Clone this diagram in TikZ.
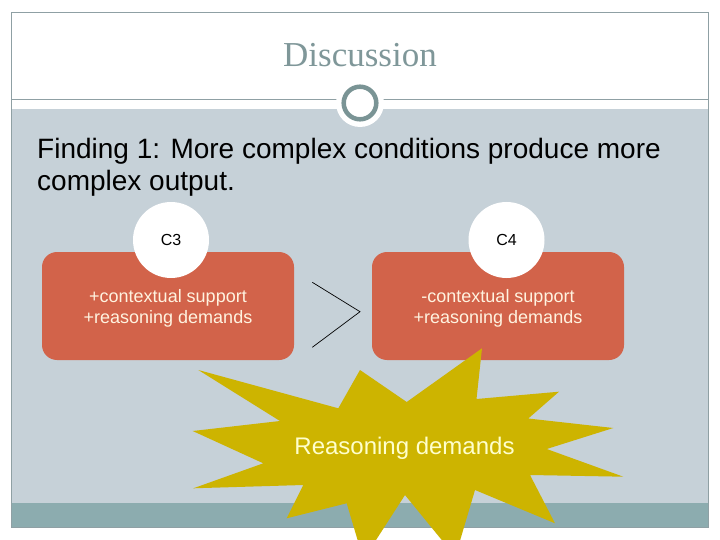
\documentclass[tikz,border=0pt]{standalone}
\usepackage{fontspec}
\setmainfont{Liberation Sans}
\newfontfamily\titlefont{Liberation Serif}
\definecolor{bandbg}{HTML}{C6D1D8}
\definecolor{bandbot}{HTML}{8CACAF}
\definecolor{framec}{HTML}{8FA0A4}
\definecolor{titlec}{HTML}{7F9799}
\definecolor{ringc}{HTML}{7A9495}
\definecolor{boxc}{HTML}{D2634A}
\definecolor{boxtext}{HTML}{FFF3E0}
\definecolor{starc}{HTML}{CDB400}
\definecolor{startext}{HTML}{FFFFCC}
\begin{document}
\begin{tikzpicture}[x=1pt,y=-1pt,
  condbox/.style={fill=boxc, rounded corners=15pt, minimum width=252pt, minimum height=108pt, inner sep=0pt, text=boxtext, align=center, font=\fontsize{18}{21.5}\selectfont},
  condlabel/.style={circle, fill=white, minimum size=76pt, inner sep=0pt, font=\fontsize{16}{19}\selectfont},
  gtline/.style={black, line width=0.7pt},
]
\useasboundingbox (0,0) rectangle (720,540);
\clip (0,0) rectangle (720,540);
\fill[white] (0,0) rectangle (720,540);
% bands and frame
\fill[bandbg] (11,109) rectangle (708,503);
\fill[bandbot] (11,503) rectangle (708,527);
\draw[framec, line width=0.8pt] (11,12) rectangle (708,527);
\draw[framec, line width=1pt] (11,100) -- (708,100);
% title
\node[font=\titlefont\fontsize{35}{40}\selectfont, text=titlec, anchor=base] (title) at (360,66.7) {Discussion};
% ring ornament
\node[circle, fill=white, minimum size=48pt, inner sep=0pt] (halo) at (360,103) {};
\node[circle, draw=ringc, line width=4.5pt, fill=white, minimum size=32.6pt, inner sep=0pt] (ring) at (360,103) {};
% finding text
\node[anchor=north west, align=left, inner sep=0pt, font=\fontsize{28}{32}\selectfont] (finding) at (37,138) {Finding 1: More complex conditions produce more\\complex output.};
% condition boxes
\node[condbox] (c3box) at (168,306) {\rule{0pt}{18pt}+contextual support\\+reasoning demands};
\node[condbox] (c4box) at (498,306) {\rule{0pt}{18pt}-contextual support\\+reasoning demands};
\node[condlabel] (c3) at (171,240) {C3};
\node[condlabel] (c4) at (506.5,240) {C4};
% greater-than sign
\coordinate (gtA) at (312.3,282.3);
\coordinate (gtB) at (360,311.7);
\coordinate (gtC) at (312.3,347.3);
\draw[gtline] (gtA) -- (gtB) -- (gtC);
% starburst
\fill[starc] (198.3,370) -- (338.3,408.3) -- (360,370) -- (406.7,402) -- (482,348.3)
  -- (476.5,399) -- (559,391.7) -- (528.3,418.5) -- (613.3,428) -- (546.7,449)
  -- (623.3,476.7) -- (530,475) -- (555,523.3) -- (475,490) -- (455.3,556.6)
  -- (405,495) -- (363.4,559.6) -- (346.7,503.3) -- (286.7,518.3) -- (303.3,485)
  -- (193.3,488.3) -- (263.3,463.3) -- (192.7,431) -- (280,421) -- cycle;
\node[text=startext, font=\fontsize{24}{28}\selectfont, anchor=base] (reason) at (404.5,454) {Reasoning demands};
\end{tikzpicture}
\end{document}
